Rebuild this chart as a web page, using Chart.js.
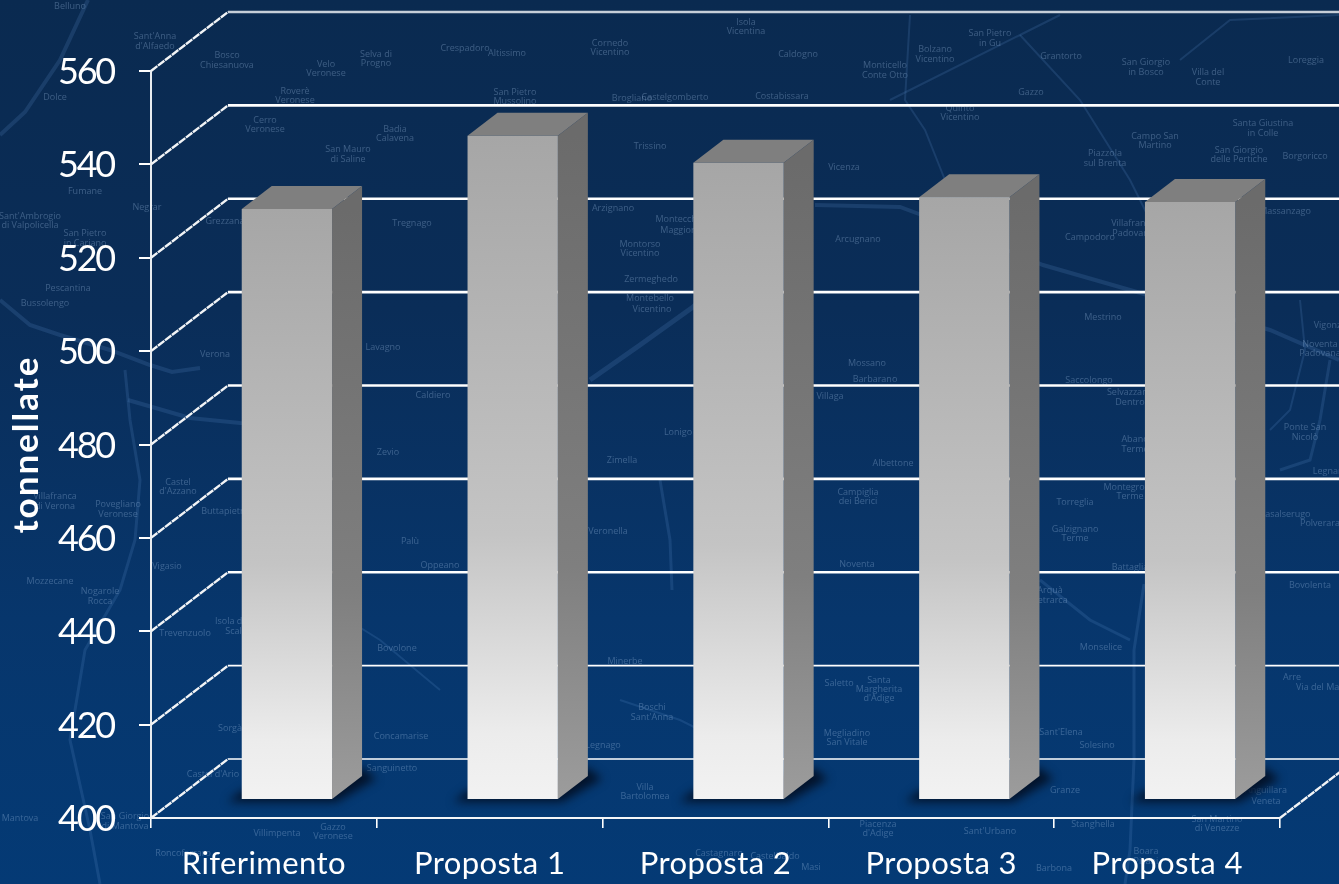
<!DOCTYPE html>
<html>
<head>
<meta charset="utf-8">
<title>tonnellate</title>
<script src="https://cdn.jsdelivr.net/npm/chart.js@4"></script>
<style>
    html, body { margin: 0; padding: 0; width: 1339px; height: 884px; overflow: hidden; }
    body { background: linear-gradient(180deg, #0a2a50 0%, #0a2d58 35%, #07366c 70%, #043a75 100%); }
    #wrap { position: relative; width: 1339px; height: 884px; overflow: hidden; }
    #map { position: absolute; left: 0; top: 0; width: 1339px; height: 884px; filter: blur(0.5px); }
    #map svg { position: absolute; left: 0; top: 0; }
    #map span {
        position: absolute;
        transform: translate(-50%, -50%);
        font: 9px "Open Sans", sans-serif;
        color: rgba(165, 195, 230, 0.33);
        white-space: nowrap;
    }
    canvas { position: absolute; left: 0; top: 0; }
</style>
</head>
<body>
<div id="wrap">
    <div id="map"></div>
    <canvas id="chart" width="1339" height="884"></canvas>
</div>
<script>
const categories = ["Riferimento", "Proposta 1", "Proposta 2", "Proposta 3", "Proposta 4"];
const tonnes = [526.6, 542.3, 536.5, 529.1, 528.1];
const axisMin = 400;
const axisMax = 560;
const axisStep = 20;

// how far the back wall sits from the front plane, and where the bars stand in between
const wallDx = 77, wallDy = -59;
const barDx = 23, barDy = -18;
const sideDx = 30, sideDy = -23;

const fontName = "Lato, 'Open Sans', sans-serif";

// backdrop map: town names and main roads
const towns = [
    ["Belluno", 70, 5], ["Dolce", 55, 96], ["Sant'Anna", 155, 35], ["d'Alfaedo", 155, 45],
    ["Bosco", 227, 54], ["Chiesanuova", 227, 64], ["Velo", 326, 63], ["Veronese", 326, 72],
    ["Selva di", 376, 53], ["Progno", 376, 62], ["Roverè", 295, 90], ["Veronese", 295, 99],
    ["Cerro", 265, 119], ["Veronese", 265, 128], ["San Mauro", 348, 148], ["di Saline", 348, 158],
    ["Badia", 395, 128], ["Calavena", 395, 137], ["Fumane", 85, 190], ["Negrar", 147, 206],
    ["Sant'Ambrogio", 30, 215], ["di Valpolicella", 30, 224], ["San Pietro", 85, 232], ["in Cariano", 85, 242],
    ["Pescantina", 68, 287], ["Bussolengo", 45, 302], ["Grezzana", 225, 220], ["Tregnago", 412, 222],
    ["Crespadoro", 465, 47], ["Altissimo", 507, 52], ["San Pietro", 515, 91], ["Mussolino", 515, 100],
    ["Cornedo", 610, 42], ["Vicentino", 610, 51], ["Brogliano", 632, 97], ["Castelgomberto", 675, 96],
    ["Isola", 746, 21], ["Vicentina", 746, 30], ["Caldogno", 798, 53], ["Costabissara", 782, 95],
    ["Monticello", 885, 64], ["Conte Otto", 885, 74], ["Vicenza", 844, 166], ["Arzignano", 613, 207],
    ["Trissino", 650, 145], ["Montecchio", 680, 218], ["Maggiore", 680, 229], ["Montorso", 640, 243],
    ["Vicentino", 640, 252], ["Zermeghedo", 651, 278], ["Montebello", 650, 297], ["Vicentino", 652, 308],
    ["Arcugnano", 858, 238], ["Bolzano", 935, 48], ["Vicentino", 935, 58], ["San Pietro", 990, 32],
    ["in Gu", 990, 42], ["Grantorto", 1061, 55], ["Gazzo", 1031, 91], ["Quinto", 960, 107],
    ["Vicentino", 960, 116], ["San Giorgio", 1146, 61], ["in Bosco", 1146, 71], ["Villa del", 1208, 71],
    ["Conte", 1208, 81], ["Loreggia", 1306, 59], ["Piazzola", 1105, 152], ["sul Brenta", 1105, 162],
    ["Campo San", 1155, 135], ["Martino", 1155, 144], ["Santa Giustina", 1263, 122], ["in Colle", 1263, 132],
    ["San Giorgio", 1239, 149], ["delle Pertiche", 1239, 158], ["Borgoricco", 1305, 155], ["Campodoro", 1090, 236],
    ["Villafranca", 1133, 222], ["Padovana", 1133, 232], ["Massanzago", 1285, 210], ["Verona", 215, 353],
    ["Lavagno", 383, 346], ["Caldiero", 433, 394], ["Zevio", 388, 451], ["Castel", 178, 481],
    ["d'Azzano", 178, 490], ["Villafranca", 55, 495], ["di Verona", 55, 505], ["Povegliano", 118, 503],
    ["Veronese", 118, 513], ["Buttapietra", 225, 510], ["Mozzecane", 50, 580], ["Vigasio", 167, 565],
    ["Nogarole", 100, 590], ["Rocca", 100, 600], ["Palù", 410, 540], ["Oppeano", 440, 564],
    ["Lonigo", 678, 431], ["Zimella", 622, 459], ["Veronella", 608, 530], ["Mossano", 867, 362],
    ["Barbarano", 875, 378], ["Villaga", 830, 395], ["Campiglia", 858, 491], ["dei Berici", 858, 500],
    ["Noventa", 857, 563], ["Albettone", 893, 462], ["Mestrino", 1103, 316], ["Saccolongo", 1089, 379],
    ["Selvazzano", 1130, 391], ["Dentro", 1130, 401], ["Abano", 1135, 438], ["Terme", 1135, 448],
    ["Montegrotto", 1130, 486], ["Terme", 1130, 495], ["Torreglia", 1075, 501], ["Galzignano", 1075, 528],
    ["Terme", 1075, 537], ["Battaglia", 1130, 566], ["Arquà", 1050, 589], ["Petrarca", 1050, 599],
    ["Noventa", 1320, 343], ["Padovana", 1320, 352], ["Ponte San", 1305, 426], ["Nicolò", 1305, 436],
    ["Vigonza", 1330, 324], ["Legnaro", 1330, 470], ["Polverara", 1320, 522], ["Bovolenta", 1310, 584],
    ["Casalserugo", 1285, 513], ["Trevenzuolo", 185, 632], ["Isola della", 236, 620], ["Scala", 236, 630],
    ["Bovolone", 397, 647], ["Concamarise", 401, 735], ["Sanguinetto", 392, 767], ["Legnago", 603, 744],
    ["Minerbe", 625, 660], ["Boschi", 652, 706], ["Sant'Anna", 652, 716], ["Villa", 645, 786],
    ["Bartolomea", 645, 795], ["Gazzo", 333, 826], ["Veronese", 333, 835], ["Sorgà", 230, 727],
    ["Castel d'Ario", 213, 773], ["Roncoferraro", 183, 852], ["Villimpenta", 277, 832], ["Mantova", 20, 817],
    ["San Giorgio", 125, 815], ["di Mantova", 125, 825], ["Saletto", 839, 682], ["Santa", 879, 679],
    ["Margherita", 879, 688], ["d'Adige", 879, 697], ["Megliadino", 847, 732], ["San Vitale", 847, 741],
    ["Monselice", 1101, 646], ["Sant'Elena", 1061, 731], ["Solesino", 1097, 744], ["Stanghella", 1093, 823],
    ["Granze", 1065, 789], ["Piacenza", 878, 823], ["d'Adige", 878, 832], ["Sant'Urbano", 990, 830],
    ["Boara", 1146, 850], ["Pisani", 1146, 860], ["Barbona", 1054, 867], ["Castagnaro", 719, 852],
    ["Castelbaldo", 775, 855], ["Masi", 811, 866], ["Anguillara", 1266, 789], ["Veneta", 1266, 800],
    ["San Martino", 1217, 818], ["di Venezze", 1217, 827], ["Arre", 1292, 676], ["Via del Mare", 1322, 686]
];
const roads = [
    [4, "88,0 60,60 25,112 0,135"],
    [4, "0,300 30,325 60,335 110,350 150,365 172,372 200,368"],
    [4, "128,400 190,418 240,423 300,425"],
    [5, "590,380 640,345 693,307 720,285"],
    [4, "815,205 900,207 935,220 1043,265 1130,290 1270,330 1339,360"],
    [3, "125,370 130,420 140,480 135,540 120,590 85,650 70,740 90,830 100,884"],
    [3, "1144,584 1134,650 1134,760 1130,850 1125,884"],
    [2, "1300,300 1305,350 1290,410 1270,430"],
    [3, "1330,360 1320,420 1310,460 1280,470"],
    [2, "890,100 1020,35 1060,15"],
    [2, "1020,35 1080,100 1130,180 1150,220"],
    [2, "910,15 905,100 925,130 945,180"],
    [3, "660,480 670,540 672,590"],
    [3, "1040,580 1090,620 1130,640"],
    [2, "300,590 380,640 440,690"],
    [2, "620,700 680,720 760,760"],
    [2, "1180,60 1230,20 1339,15"]
];

const mapLayer = document.getElementById("map");
mapLayer.innerHTML = '<svg width="1339" height="884">' + roads.map(r =>
    `<polyline points="${r[1]}" fill="none" stroke="rgba(90,140,200,0.2)" stroke-width="${r[0]}"/>`).join("") + "</svg>";
towns.forEach(t => {
    const label = document.createElement("span");
    label.textContent = t[0];
    label.style.left = t[1] + "px";
    label.style.top = t[2] + "px";
    mapLayer.appendChild(label);
});

// canvas letter spacing per axis part, the axis only offers the font itself
function tracked(scale, method, px) {
    const draw = scale[method];
    scale[method] = function (...args) {
        this.ctx.letterSpacing = px + "px";
        draw.apply(this, args);
        this.ctx.letterSpacing = "0px";
    };
}

const box3d = {
    id: "box3d",
    afterLayout(chart) {
        if (chart.$tracked) return;
        chart.$tracked = true;
        tracked(chart.scales.y, "drawLabels", -2.2);
        tracked(chart.scales.y, "drawTitle", 2);
        tracked(chart.scales.x, "drawLabels", 0.4);
    },
    beforeDatasetsDraw(chart) {
        const { ctx, chartArea, scales } = chart;
        const right = chartArea.right, left = chartArea.left, bottom = chartArea.bottom;
        const ticks = scales.y.ticks;

        ctx.save();
        // back wall lines and their diagonals
        ticks.forEach((t, i) => {
            const y = scales.y.getPixelForValue(t.value);
            ctx.lineWidth = i < 2 ? 1.6 : 2.6;
            ctx.strokeStyle = i === ticks.length - 1 ? "#c6ced8" : "#ffffff";
            ctx.beginPath();
            ctx.moveTo(left + wallDx, y + wallDy);
            ctx.lineTo(right + wallDx, y + wallDy);
            ctx.stroke();
            ctx.lineWidth = 2.4;
            ctx.strokeStyle = "#f2f4f6";
            ctx.setLineDash([8, 0.8]);
            ctx.beginPath();
            ctx.moveTo(left, y);
            ctx.lineTo(left + wallDx, y + wallDy);
            ctx.stroke();
            ctx.setLineDash([]);
        });
        ctx.lineWidth = 2.4;
        ctx.setLineDash([8, 0.8]);
        ctx.beginPath();
        ctx.moveTo(right, bottom);
        ctx.lineTo(right + wallDx, bottom + wallDy);
        ctx.stroke();
        ctx.setLineDash([]);

        // floor shadow
        const meta = chart.getDatasetMeta(0);
        meta.data.forEach(bar => {
            const x0 = bar.x - bar.width / 2 + barDx, x1 = bar.x + bar.width / 2 + barDx;
            const b = bar.base + barDy;
            ctx.save();
            ctx.filter = "blur(5px)";
            ctx.fillStyle = "rgba(2, 14, 34, 0.9)";
            ctx.beginPath();
            ctx.moveTo(x0 - 14, b + 3);
            ctx.lineTo(x1 + 4, b + 3);
            ctx.lineTo(x1 + sideDx + 14, b + sideDy + 3);
            ctx.lineTo(x1 + sideDx, b + sideDy - 8);
            ctx.lineTo(x0, b - 8);
            ctx.closePath();
            ctx.fill();
            ctx.restore();
        });

        // bars stand part way between the front plane and the wall
        ctx.translate(barDx, barDy);
        meta.data.forEach(bar => {
            const x1 = bar.x + bar.width / 2, x0 = bar.x - bar.width / 2;
            const side = ctx.createLinearGradient(0, bar.y, 0, bar.base);
            side.addColorStop(0, "#6b6b6b");
            side.addColorStop(0.65, "#7f7f7f");
            side.addColorStop(1, "#9c9c9c");
            ctx.fillStyle = side;
            ctx.beginPath();
            ctx.moveTo(x1, bar.y);
            ctx.lineTo(x1 + sideDx, bar.y + sideDy);
            ctx.lineTo(x1 + sideDx, bar.base + sideDy);
            ctx.lineTo(x1, bar.base);
            ctx.closePath();
            ctx.fill();

            ctx.fillStyle = "#7f7f7f";
            ctx.beginPath();
            ctx.moveTo(x0, bar.y);
            ctx.lineTo(x0 + sideDx, bar.y + sideDy);
            ctx.lineTo(x1 + sideDx, bar.y + sideDy);
            ctx.lineTo(x1, bar.y);
            ctx.closePath();
            ctx.fill();
        });
    },
    afterDatasetsDraw(chart) {
        chart.ctx.restore();
    }
};

new Chart(document.getElementById("chart"), {
    type: "bar",
    data: {
        labels: categories,
        datasets: [{
            data: tonnes,
            base: axisMin,
            clip: false,
            categoryPercentage: 1,
            barPercentage: 0.4,
            borderWidth: 0,
            backgroundColor(ctx) {
                if (ctx.type !== "data") return "#c8c8c8";
                const y = ctx.chart.scales.y;
                const top = y.getPixelForValue(ctx.parsed.y), bottom = y.getPixelForValue(axisMin);
                // the scale has no size yet on the very first pass
                if (!isFinite(top) || !isFinite(bottom)) return "#c8c8c8";
                const g = ctx.chart.ctx.createLinearGradient(0, top, 0, bottom);
                g.addColorStop(0, "#a6a6a6");
                g.addColorStop(0.6, "#c4c4c4");
                g.addColorStop(0.9, "#ececec");
                g.addColorStop(1, "#f2f2f2");
                return g;
            }
        }]
    },
    options: {
        responsive: false,
        animation: false,
        layout: { padding: { top: 71, right: 59, left: 0, bottom: 0 } },
        plugins: { legend: { display: false }, tooltip: { enabled: false } },
        scales: {
            x: {
                afterFit(scale) { scale.height = 66; },
                grid: {
                    offset: true,
                    drawOnChartArea: false,
                    color: "#ffffff",
                    lineWidth: 1.6,
                    tickLength: 10
                },
                border: { color: "#f4f6f8", width: 2 },
                ticks: { color: "#ffffff", font: { family: fontName, size: 31 }, padding: 17, maxRotation: 0 }
            },
            y: {
                min: axisMin,
                max: axisMax,
                afterFit(scale) { scale.width = 151; },
                title: {
                    display: true,
                    text: "tonnellate",
                    color: "#ffffff",
                    font: { family: fontName, size: 35, weight: "bold" },
                    padding: { top: 6, bottom: 0 }
                },
                grid: {
                    drawOnChartArea: false,
                    color: "#ffffff",
                    lineWidth: 2,
                    tickLength: 12
                },
                border: { color: "#e8ecf0", width: 2 },
                ticks: { stepSize: axisStep, color: "#ffffff", font: { family: fontName, size: 36 }, padding: 25, labelOffset: 1.5 }
            }
        }
    },
    plugins: [box3d]
});
</script>
</body>
</html>
